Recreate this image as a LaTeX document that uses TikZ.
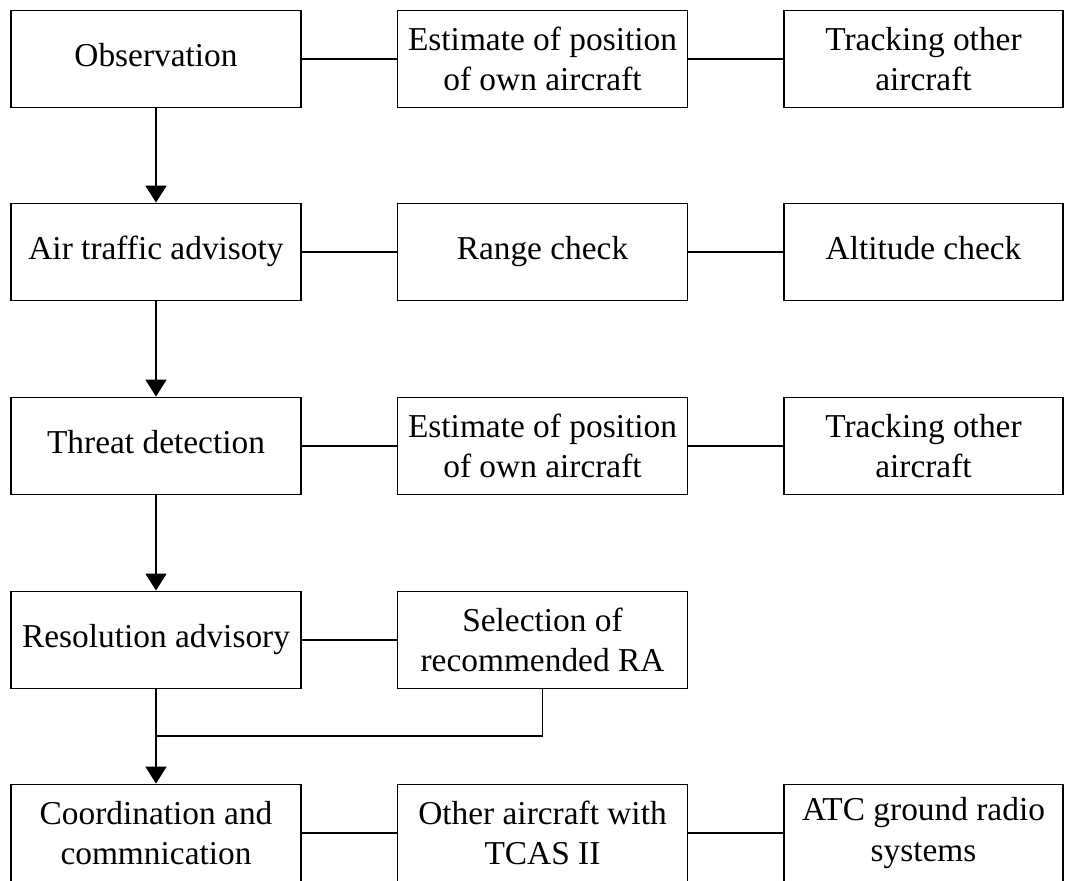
\documentclass[tikz,border=0pt]{standalone}
\usepackage{fontspec}
\setmainfont{Liberation Serif}
\usetikzlibrary{arrows.meta}

\begin{document}
\begin{tikzpicture}[x=0.02cm,y=-0.02cm,
  blk/.style={draw,line width=1.1pt,minimum height=1.94cm,align=center,
    inner sep=2pt,font=\fontsize{19}{23}\selectfont},
  wide/.style={blk,minimum width=5.8cm},
  narrow/.style={blk,minimum width=5.58cm},
  single/.style={text height=13pt,text depth=4pt},
  link/.style={line width=1.1pt},
  flow/.style={link,-{Triangle[width=0.42cm,length=0.34cm]}}]
% Configurable parameters
\def\colA{156}
\def\colB{542.5}
\def\colC{923.5}

\useasboundingbox (0,0) rectangle (1065,880);

% Main column
\node[wide,single] (obs) at (\colA,59) {Observation};
\node[wide,single] (ata) at (\colA,252) {Air traffic advisoty};
\node[wide,single] (thr) at (\colA,446) {Threat detection};
\node[wide,single] (res) at (\colA,640) {Resolution advisory};
\node[wide] (coo) at (\colA,833) {Coordination and\\commnication};

% Second column
\node[wide] (estA) at (\colB,59) {Estimate of position\\of own aircraft};
\node[wide,single] (rng) at (\colB,252) {Range check};
\node[wide] (estB) at (\colB,446) {Estimate of position\\of own aircraft};
\node[wide] (sel) at (\colB,640) {Selection of\\recommended RA};
\node[wide] (oth) at (\colB,833) {Other aircraft with\\TCAS II};

% Third column
\node[narrow] (trkA) at (\colC,59) {Tracking other\\aircraft};
\node[narrow,single] (alt) at (\colC,252) {Altitude check};
\node[narrow] (trkB) at (\colC,446) {Tracking other\\aircraft};
\node[narrow] (atc) at (\colC,833) {ATC ground radio\\systems};

% Row links
\draw[link] (obs) -- (estA) -- (trkA);
\draw[link] (ata) -- (rng) -- (alt);
\draw[link] (thr) -- (estB) -- (trkB);
\draw[link] (res) -- (sel);
\draw[link] (coo) -- (oth) -- (atc);

% Flow down
\draw[flow] (obs) -- (ata);
\draw[flow] (ata) -- (thr);
\draw[flow] (thr) -- (res);
\coordinate (merge) at (\colA,736);
\draw[link] (res.south) -- (merge);
\draw[link] (sel.south) |- (merge);
\draw[flow] (merge) -- (coo.north);
\end{tikzpicture}
\end{document}
